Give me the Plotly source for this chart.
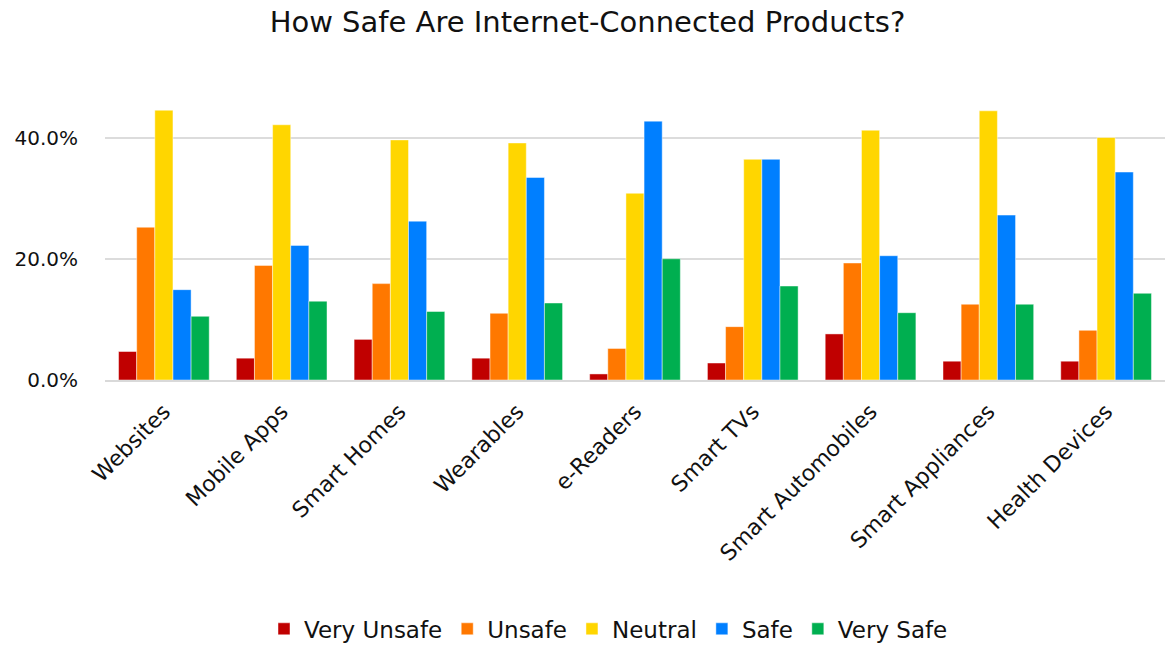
import plotly.graph_objects as go

categories = ["Websites", "Mobile Apps", "Smart Homes", "Wearables", "e-Readers",
              "Smart TVs", "Smart Automobiles", "Smart Appliances", "Health Devices"]

very_unsafe = [4.7, 3.6, 6.7, 3.6, 1.0, 2.8, 7.6, 3.1, 3.1]
unsafe      = [25.2, 18.9, 15.9, 11.0, 5.2, 8.8, 19.3, 12.5, 8.2]
neutral     = [44.5, 42.1, 39.6, 39.1, 30.8, 36.4, 41.2, 44.4, 40.0]
safe        = [14.9, 22.2, 26.2, 33.4, 42.7, 36.4, 20.5, 27.2, 34.3]
very_safe   = [10.5, 13.0, 11.3, 12.7, 20.0, 15.5, 11.1, 12.5, 14.3]

series = [
    ("Very Unsafe", very_unsafe, "#C00000"),
    ("Unsafe", unsafe, "#FF7800"),
    ("Neutral", neutral, "#FFD600"),
    ("Safe", safe, "#007FFF"),
    ("Very Safe", very_safe, "#00AF50"),
]

FONT = "DejaVu Sans"

fig = go.Figure()
for name, vals, color in series:
    fig.add_trace(go.Bar(
        name=name,
        x=categories,
        y=[v / 100 for v in vals],
        marker=dict(color=color, line=dict(color="rgba(255,255,255,0.45)", width=1)),
    ))

fig.update_layout(
    width=1175, height=645,
    paper_bgcolor="white", plot_bgcolor="white",
    font=dict(family=FONT, size=20, color="#111111"),
    title=dict(text="How Safe Are Internet-Connected Products?", x=0.5, xanchor="center",
               y=0.966, yanchor="middle", font=dict(family=FONT, size=29, color="#111111")),
    barmode="group", bargap=0.23, bargroupgap=0,
    margin=dict(l=105, r=10, t=89, b=265),
    showlegend=True,
    legend=dict(orientation="h", x=0.475, xanchor="center", yref="container",
                y=0.025, yanchor="middle",
                font=dict(family=FONT, size=23, color="#111111"),
                traceorder="normal"),
    xaxis=dict(tickangle=-45, showgrid=False, showline=True, linecolor="#d9d9d9", linewidth=2,
               tickfont=dict(family=FONT, size=22, color="#111111"), ticks="",
               ticklabelstandoff=8),
    yaxis=dict(range=[0, 0.48], tickvals=[0, 0.2, 0.4], tickformat=".1%",
               gridcolor="#dcdcdc", gridwidth=2, zeroline=False,
               tickfont=dict(family=FONT, size=20, color="#111111"), ticks="",
               ticklabelstandoff=26),
)

fig.write_html("out.html")
